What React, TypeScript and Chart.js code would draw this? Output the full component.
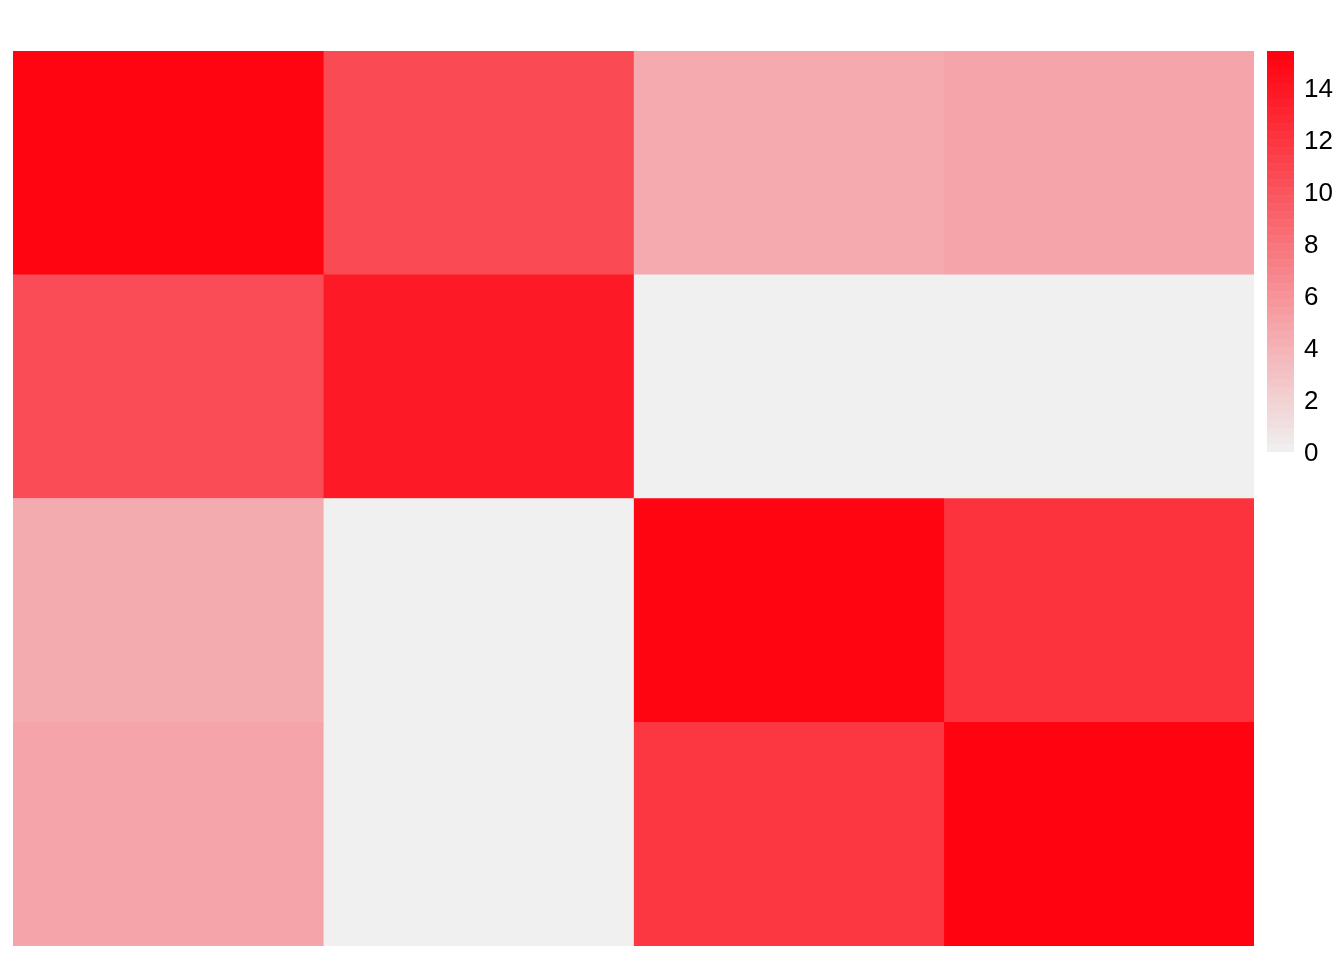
import React, { useEffect, useRef } from "react";
import { Chart, registerables } from "chart.js";

Chart.register(...registerables);

// Block heatmap (4 row groups x 4 column groups)
const rowLabels = ["R1", "R2", "R3", "R4"];
const colLabels = ["C1", "C2", "C3", "C4"];
const col1Values = [15.1, 10.5, 4.4, 4.8];
const col2Values = [10.6, 13.8, 0, 0];
const col3Values = [4.5, 0, 15.1, 11.9];
const col4Values = [4.8, 0, 12.2, 15.2];
const legendTicks = [0, 2, 4, 6, 8, 10, 12, 14];
const legendMin = 0;
const legendMax = 15.4;

function colorFor(v: number): string {
  const t = Math.max(0, Math.min(1, (v - legendMin) / (legendMax - legendMin)));
  const r = Math.round(240 + 15 * t);
  const g = Math.round(240 * (1 - t));
  const b = Math.round(240 * (1 - t) + 14 * t);
  return `rgb(${r},${g},${b})`;
}

const colorbarPlugin = {
  id: "colorbar",
  afterDraw(chart: any) {
    const ctx = chart.ctx;
    const x0 = 1267;
    const w = 27;
    const top = 51;
    const pxPerUnit = 26;
    const bottom = top + (legendMax - legendMin) * pxPerUnit;
    const steps = 50;
    ctx.save();
    for (let i = 0; i < steps; i++) {
      const v0 = legendMin + ((legendMax - legendMin) * i) / steps;
      const v1 = legendMin + ((legendMax - legendMin) * (i + 1)) / steps;
      const y0 = bottom - (v0 - legendMin) * pxPerUnit;
      const y1 = bottom - (v1 - legendMin) * pxPerUnit;
      ctx.fillStyle = colorFor((v0 + v1) / 2);
      ctx.fillRect(x0, y1, w, y0 - y1 + 0.5);
    }
    ctx.fillStyle = "#000";
    ctx.font = '26px "Liberation Sans", Arial, sans-serif';
    ctx.textBaseline = "middle";
    ctx.textAlign = "left";
    for (const t of legendTicks) {
      const y = bottom - (t - legendMin) * pxPerUnit;
      ctx.fillText(String(t), 1304, y + 2.5);
    }
    ctx.restore();
  },
};

export default function App() {
  const ref = useRef<HTMLCanvasElement | null>(null);
  useEffect(() => {
    if (!ref.current) return;
    const cols = [col1Values, col2Values, col3Values, col4Values];
    const chart = new Chart(ref.current, {
      type: "bar",
      data: {
        labels: rowLabels,
        datasets: cols.map((vals, j) => ({
          label: colLabels[j],
          data: vals.map(() => 1),
          backgroundColor: vals.map(colorFor),
          borderWidth: 0,
          barPercentage: 1,
          categoryPercentage: 1,
        })),
      },
      options: {
        indexAxis: "y",
        animation: false,
        responsive: false,
        devicePixelRatio: 1,
        layout: { padding: { left: 13, top: 51, right: 90, bottom: 14 } },
        plugins: { legend: { display: false }, tooltip: { enabled: false } },
        scales: {
          x: { stacked: true, min: 0, max: 4, display: false },
          y: { stacked: true, display: false, offset: true },
        },
      },
      plugins: [colorbarPlugin],
    } as any);
    return () => chart.destroy();
  }, []);
  return (
    <div style={{ position: "absolute", left: 0, top: 0, width: 1344, height: 960, background: "#fff" }}>
      <canvas ref={ref} width={1344} height={960} />
    </div>
  );
}
